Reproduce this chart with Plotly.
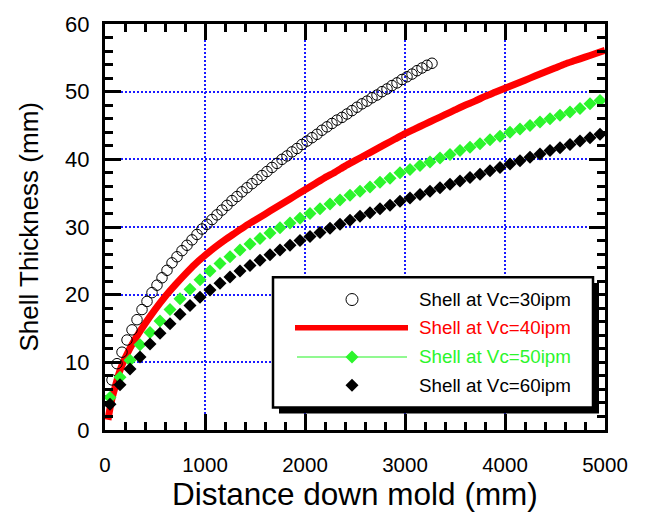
import plotly.graph_objects as go

# ---------------- data ----------------
x_v30 = [20, 70, 120, 170, 220, 270, 320, 370, 420, 470, 520, 570, 620, 670, 720, 770,
         820, 870, 920, 970, 1020, 1070, 1120, 1170, 1220, 1270, 1320, 1370, 1420, 1470,
         1520, 1570, 1620, 1670, 1720, 1770, 1820, 1870, 1920, 1970, 2020, 2070, 2120,
         2170, 2220, 2270, 2320, 2370, 2420, 2470, 2520, 2570, 2620, 2670, 2720, 2770,
         2820, 2870, 2920, 2970, 3020, 3070, 3120, 3170, 3220, 3270]
y_v30 = [4.3, 7.4, 9.8, 11.5, 13.3, 14.8, 16.3, 17.8, 19.0, 20.3, 21.4, 22.5, 23.6, 24.7,
         25.6, 26.5, 27.3, 28.1, 28.9, 29.7, 30.4, 31.1, 31.8, 32.5, 33.2, 33.9, 34.5,
         35.2, 35.8, 36.4, 37.0, 37.6, 38.2, 38.8, 39.4, 40.0, 40.5, 41.1, 41.6, 42.2,
         42.7, 43.2, 43.7, 44.3, 44.8, 45.3, 45.8, 46.2, 46.7, 47.2, 47.7, 48.2, 48.6,
         49.1, 49.5, 50.0, 50.4, 50.9, 51.3, 51.8, 52.2, 52.6, 53.1, 53.5, 53.9, 54.2]

x_v40 = [30, 60, 100, 150, 200, 300, 400, 500, 600, 700, 800, 900, 1000, 1100, 1200, 1300,
         1400, 1500, 1600, 1700, 1800, 1900, 2000, 2100, 2200, 2300, 2400, 2500, 2600,
         2700, 2800, 2900, 3000, 3100, 3200, 3300, 3400, 3500, 3600, 3700, 3800, 3900,
         4000, 4100, 4200, 4300, 4400, 4500, 4600, 4700, 4800, 4900, 5000]
y_v40 = [1.5, 4.0, 6.3, 8.8, 10.6, 13.4, 15.7, 17.8, 19.7, 21.4, 23.0, 24.5, 25.8, 27.0,
         28.1, 29.1, 30.1, 31.0, 31.9, 32.8, 33.7, 34.6, 35.5, 36.4, 37.3, 38.1, 39.0,
         39.8, 40.6, 41.4, 42.2, 43.0, 43.8, 44.5, 45.2, 45.9, 46.6, 47.3, 48.0, 48.6,
         49.3, 49.9, 50.5, 51.1, 51.7, 52.3, 52.9, 53.5, 54.1, 54.6, 55.1, 55.6, 56.1]

x_v50 = [50, 150, 250, 350, 450, 550, 650, 750, 850, 950, 1050, 1150, 1250, 1350, 1450,
         1550, 1650, 1750, 1850, 1950, 2050, 2150, 2250, 2350, 2450, 2550, 2650, 2750,
         2850, 2950, 3050, 3150, 3250, 3350, 3450, 3550, 3650, 3750, 3850, 3950, 4050,
         4150, 4250, 4350, 4450, 4550, 4650, 4750, 4850, 4950]
y_v50 = [4.8, 7.8, 10.3, 12.6, 14.4, 16.1, 17.8, 19.4, 20.8, 22.2, 23.5, 24.6, 25.6, 26.6,
         27.5, 28.3, 29.1, 29.9, 30.6, 31.3, 32.0, 32.7, 33.4, 34.0, 34.7, 35.3, 35.9,
         36.6, 37.2, 38.0, 38.5, 39.1, 39.6, 40.2, 40.7, 41.3, 41.8, 42.3, 42.9, 43.4,
         44.0, 44.5, 45.0, 45.5, 46.0, 46.5, 47.0, 47.5, 48.2, 48.7]

x_v60 = x_v50
y_v60 = [3.8, 6.7, 9.0, 10.8, 12.7, 14.3, 15.7, 17.1, 18.4, 19.6, 20.7, 21.7, 22.6, 23.5,
         24.3, 25.1, 25.9, 26.6, 27.3, 28.0, 28.6, 29.2, 29.8, 30.4, 31.0, 31.6, 32.1,
         32.7, 33.2, 33.8, 34.3, 34.8, 35.3, 35.8, 36.3, 36.8, 37.3, 37.8, 38.3, 38.8,
         39.3, 39.8, 40.3, 40.8, 41.3, 41.7, 42.2, 42.7, 43.2, 43.7]

legend_labels = ["Shell at Vc=30ipm", "Shell at Vc=40ipm", "Shell at Vc=50ipm", "Shell at Vc=60ipm"]

RED = "#ff0000"
GREEN = "#2cf52c"
BLACK = "#000000"
FONT = "Arial, Liberation Sans, sans-serif"

fig = go.Figure()
fig.add_trace(go.Scatter(x=x_v40, y=y_v40, mode="lines",
                         line=dict(color=RED, width=7, shape="spline", smoothing=0.6,
                                   simplify=False),
                         showlegend=False))
fig.add_trace(go.Scatter(x=x_v30, y=y_v30, mode="markers",
                         marker=dict(symbol="circle-open", size=10.5, color=BLACK,
                                     line=dict(width=1, color=BLACK)), showlegend=False))
fig.add_trace(go.Scatter(x=x_v50, y=y_v50, mode="markers",
                         marker=dict(symbol="diamond", size=10, color=GREEN), showlegend=False))
fig.add_trace(go.Scatter(x=x_v60, y=y_v60, mode="markers",
                         marker=dict(symbol="diamond", size=10, color=BLACK), showlegend=False))

# ---------------- layout ----------------
L, R, T, B = 105, 41, 13, 88
W, H = 646, 518
PW, PH = W - L - R, H - T - B


def px(xp):
    return (xp - L) / PW


def py(yp):
    return (H - B - yp) / PH


axis_common = dict(
    showline=True, linecolor=BLACK, linewidth=3, mirror="ticks",
    ticks="inside", ticklen=16, tickwidth=3, tickcolor=BLACK,
    showgrid=True, gridcolor="#1a1aff", gridwidth=1.6, griddash="2px,2px",
    zeroline=False,
)

fig.update_xaxes(range=[0, 5000], dtick=1000, tick0=0,
                 minor=dict(dtick=200, ticks="inside", ticklen=8, tickwidth=2.5,
                            tickcolor=BLACK, showgrid=False),
                 tickfont=dict(family=FONT, size=20.5, color=BLACK),
                 ticklabelstandoff=14, **axis_common)
fig.update_yaxes(range=[0, 60], dtick=10, tick0=0,
                 minor=dict(dtick=2, ticks="inside", ticklen=8, tickwidth=2.5,
                            tickcolor=BLACK, showgrid=False),
                 tickfont=dict(family=FONT, size=22, color=BLACK),
                 ticklabelstandoff=8, **axis_common)

shapes = []
# legend shadow and box
shapes.append(dict(type="rect", xref="paper", yref="paper", layer="above",
                   x0=px(279), x1=px(599), y0=py(413), y1=py(279),
                   fillcolor=BLACK, line=dict(width=0)))
shapes.append(dict(type="rect", xref="paper", yref="paper", layer="above",
                   x0=px(273), x1=px(593), y0=py(407), y1=py(273),
                   fillcolor="white", line=dict(color=BLACK, width=2.5)))
rows = [296, 325, 355, 384]
sym_x = 352
# Vc=30 open circle
shapes.append(dict(type="circle", xref="paper", yref="paper", layer="above",
                   xsizemode="pixel", ysizemode="pixel",
                   xanchor=px(sym_x), yanchor=py(rows[0]),
                   x0=-6, x1=6, y0=-6, y1=6,
                   line=dict(color=BLACK, width=1), fillcolor="rgba(0,0,0,0)"))
# Vc=40 thick red line
shapes.append(dict(type="line", xref="paper", yref="paper", layer="above",
                   x0=px(295), x1=px(408), y0=py(rows[1]), y1=py(rows[1]),
                   line=dict(color=RED, width=5.5)))
# Vc=50 thin green line + diamond
shapes.append(dict(type="line", xref="paper", yref="paper", layer="above",
                   x0=px(297), x1=px(407), y0=py(rows[2]), y1=py(rows[2]),
                   line=dict(color="#6cf76c", width=1.5)))
diamond = "M 0 6.5 L 6.5 0 L 0 -6.5 L -6.5 0 Z"
for r_, col in [(rows[2], GREEN), (rows[3], BLACK)]:
    shapes.append(dict(type="path", xref="paper", yref="paper", layer="above",
                       xsizemode="pixel", ysizemode="pixel",
                       xanchor=px(sym_x), yanchor=py(r_), path=diamond,
                       fillcolor=col, line=dict(width=0)))

annotations = []
for lbl, r_, col in zip(legend_labels, rows, [BLACK, RED, GREEN, BLACK]):
    annotations.append(dict(text=lbl, xref="paper", yref="paper", x=px(417), y=py(r_),
                            xanchor="left", yanchor="middle", showarrow=False,
                            font=dict(family=FONT, size=18.8, color=col)))
# axis titles
annotations.append(dict(text="Shell Thickness (mm)", xref="paper", yref="paper",
                        x=px(29), y=py(222), xanchor="center", yanchor="middle",
                        textangle=-90, showarrow=False,
                        font=dict(family=FONT, size=26, color=BLACK)))
annotations.append(dict(text="Distance down mold (mm)", xref="paper", yref="paper",
                        x=px(355), y=py(496), xanchor="center", yanchor="middle",
                        showarrow=False,
                        font=dict(family=FONT, size=31.5, color=BLACK)))

fig.update_layout(
    width=W, height=H, autosize=False,
    margin=dict(l=L, r=R, t=T, b=B),
    paper_bgcolor="white", plot_bgcolor="white",
    shapes=shapes, annotations=annotations,
    showlegend=False,
)

fig.write_html("out.html")
